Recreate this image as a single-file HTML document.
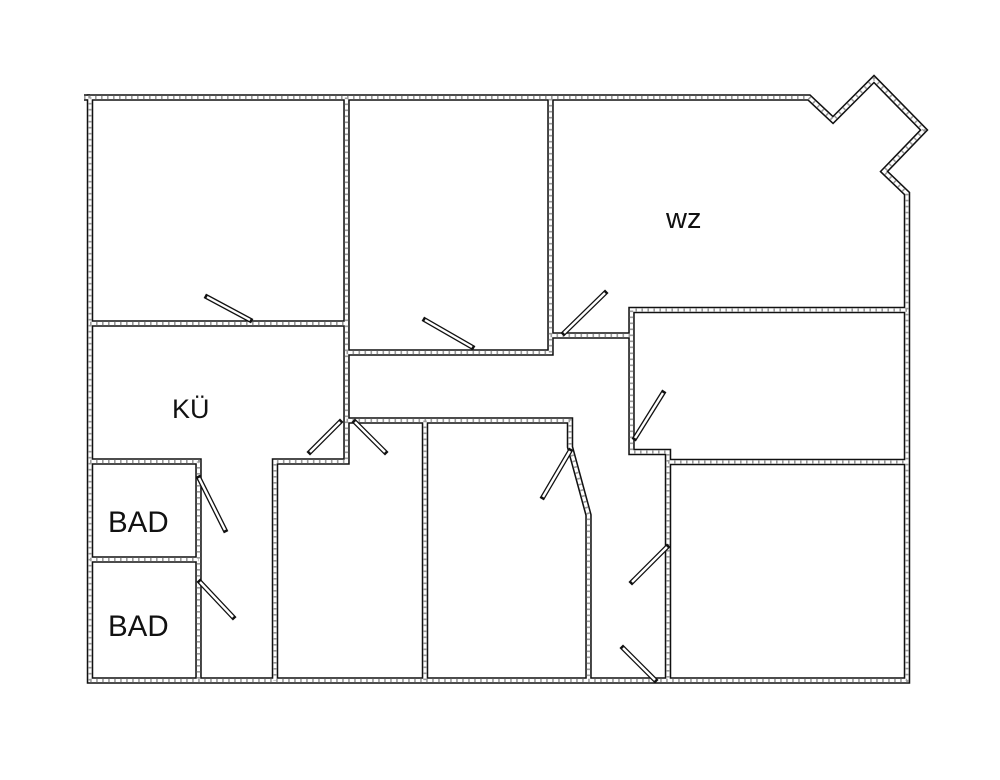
<!DOCTYPE html>
<html>
<head>
<meta charset="utf-8">
<style>
  html,body{margin:0;padding:0;background:#fff;}
  body{width:1000px;height:780px;overflow:hidden;}
  svg{display:block;}
  .lbl{font-family:"Liberation Sans",Arial,sans-serif;fill:#111;}
</style>
</head>
<body>
<svg width="1000" height="780" viewBox="0 0 1000 780" xmlns="http://www.w3.org/2000/svg">
  <defs>
    <g id="walls">
      <path d="M90,680.5 L90,97.5 L809,97.5 L833,120 L874,79 L924,130 L884,171.5 L907,193.5 L907,680.5 Z"/>
      <path d="M84,97.5 L90,97.5"/>
      <path d="M346.5,97.5 L346.5,461.5 L275,461.5 L275,680.5"/>
      <path d="M90,323.5 L346.5,323.5"/>
      <path d="M90,461.5 L198.5,461.5 L198.5,680.5"/>
      <path d="M90,559.5 L198.5,559.5"/>
      <path d="M346.5,352.5 L550.5,352.5 L550.5,97.5"/>
      <path d="M550.5,335.5 L631.5,335.5"/>
      <path d="M907,310 L631.5,310 L631.5,452 L668,452 L668,680.5"/>
      <path d="M668,462 L907,462"/>
      <path d="M346.5,420.5 L570,420.5 L570,447 L588.5,515 L588.5,680.5"/>
      <path d="M425,420.5 L425,680.5"/>
    </g>
    <g id="doors">
      <path d="M207,297 L250,320"/>
      <path d="M425,320 L472,347"/>
      <path d="M605,293 L564,333"/>
      <path d="M663,393 L635,438"/>
      <path d="M340,422 L310,452"/>
      <path d="M355,422 L385,452"/>
      <path d="M570,451 L543,497"/>
      <path d="M199,478 L225,530"/>
      <path d="M200,582 L233,617"/>
      <path d="M667,547 L632,582"/>
      <path d="M623,648 L655,680"/>
    </g>
  </defs>

  <!-- walls: outer black, inner white, hatch -->
  <use href="#walls" fill="none" stroke="#111" stroke-width="6.5" stroke-linejoin="miter" stroke-miterlimit="10"/>
  <use href="#walls" fill="none" stroke="#fff" stroke-width="3.4" stroke-linejoin="miter" stroke-miterlimit="10"/>
  <use href="#walls" fill="none" stroke="#9a9a9a" stroke-width="3.4" stroke-dasharray="1.6 4.4" stroke-linejoin="miter"/>

  <!-- doors -->
  <use href="#doors" fill="none" stroke="#111" stroke-width="5" stroke-linecap="square"/>
  <use href="#doors" fill="none" stroke="#fff" stroke-width="2.4" stroke-linecap="butt"/>

  <!-- labels -->
  <text class="lbl" x="666" y="228" font-size="29">wz</text>
  <text class="lbl" x="172" y="418" font-size="27">KÜ</text>
  <text class="lbl" x="108" y="532" font-size="29.5">BAD</text>
  <text class="lbl" x="108" y="636" font-size="29.5">BAD</text>
</svg>
</body>
</html>
